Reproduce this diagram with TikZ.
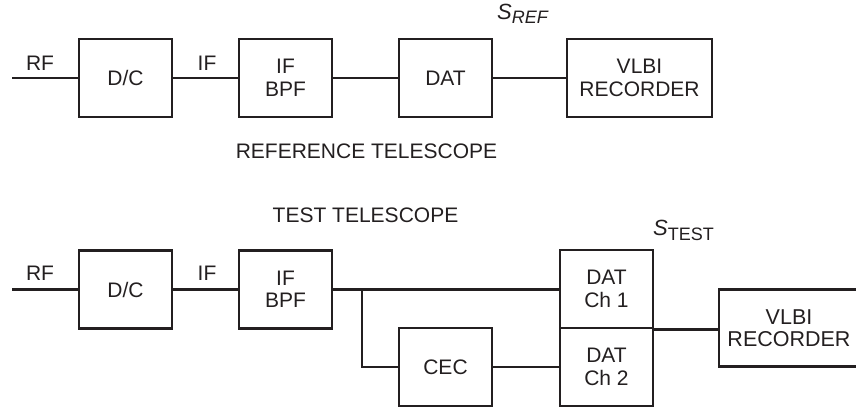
\documentclass[tikz,border=0pt]{standalone}
\usepackage{fontspec}
\setmainfont{Liberation Sans}
\definecolor{ink}{RGB}{35,31,32}
\begin{document}
\begin{tikzpicture}[x=1pt,y=-1pt, color=ink,
  blk/.style={draw, line width=2.6pt, minimum width=93pt, minimum height=78pt, inner sep=0pt, align=center, font=\fontsize{21}{22.5}\selectfont},
  wide/.style={blk, minimum width=145pt},
  lbl/.style={inner sep=0pt, font=\fontsize{21}{22.5}\selectfont},
  wire/.style={line width=2.6pt}]
\useasboundingbox (0,0) rectangle (856,408);
% reference telescope
\node[blk] (dc1) at (125.5,78) {D/C};
\node[blk] (bpf1) at (285.5,78) {IF\\BPF};
\node[blk] (dat1) at (445.5,78) {DAT};
\node[wide] (vl1) at (639.5,78) {VLBI\\RECORDER};
\coordinate (rf1) at (12,78);
\draw[wire] (rf1) -- (dc1.west);
\draw[wire] (dc1.east) -- (bpf1.west);
\draw[wire] (bpf1.east) -- (dat1.west);
\draw[wire] (dat1.east) -- (vl1.west);
\node[lbl] (rfl1) at (40,63) {RF};
\node[lbl] (ifl1) at (207,63) {IF};
\node[inner sep=0pt, anchor=base west] (sref) at (497,19) {{\fontsize{22}{22}\selectfont\itshape S}\raisebox{-4pt}{\fontsize{18}{18}\selectfont\itshape REF}};
\node[lbl] (reft) at (366.5,151) {REFERENCE TELESCOPE};
% test telescope
\node[lbl] (testt) at (365.5,215) {TEST TELESCOPE};
\node[blk] (dc2) at (125.5,289.5) {D/C};
\node[blk] (bpf2) at (285.5,289.5) {IF\\BPF};
\node[blk] (cec) at (445.5,367) {CEC};
\node[blk] (ch1) at (606.5,289) {DAT\\Ch 1};
\node[blk] (ch2) at (606.5,367) {DAT\\Ch 2};
\node[blk, minimum width=140pt, minimum height=77pt, font=\fontsize{21.5}{22.5}\selectfont] (vl2) at (789,328) {VLBI\\RECORDER};
\coordinate (rf2) at (12,289.5);
\coordinate (br) at (362,289.5);
\draw[wire] (rf2) -- (dc2.west);
\draw[wire] (dc2.east) -- (bpf2.west);
\draw[wire] (bpf2.east) -- (ch1.west |- bpf2.east);
\draw[wire] (br) |- (cec.west);
\draw[wire] (cec.east) -- (ch2.west);
\draw[wire] (ch1.south east) -- (ch1.south east -| vl2.west);
\node[lbl] (rfl2) at (40,273) {RF};
\node[lbl] (ifl2) at (207,273) {IF};
\node[inner sep=0pt, anchor=base west] (stest) at (653,235) {{\fontsize{22}{22}\selectfont\itshape S}\raisebox{-5pt}{\fontsize{18}{18}\selectfont TEST}};
\end{tikzpicture}
\end{document}
